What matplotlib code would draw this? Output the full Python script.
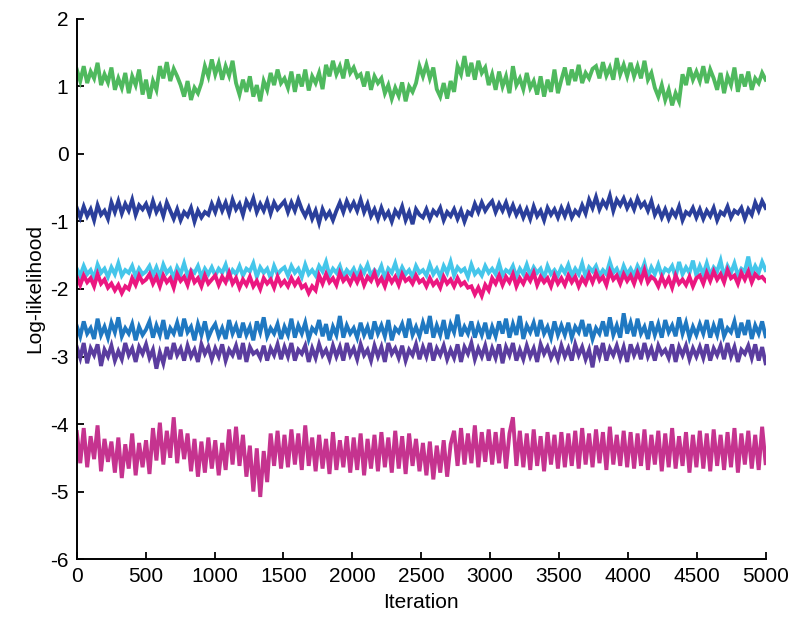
import numpy as np
import matplotlib as mpl
import matplotlib.pyplot as plt

# ---------------------------------------------------------------------------
# Data: log-likelihood traces, one value every ~25 iterations
# ---------------------------------------------------------------------------
N_ITER = 5000

green_trace = [
    1.25, 1.08, 1.30, 1.05, 1.22, 1.12, 1.35, 1.02, 1.18, 1.06, 1.28, 0.95, 1.12, 0.98, 1.20, 0.90, 1.15, 1.02, 1.25, 0.88,
    1.10, 0.82, 1.08, 0.95, 1.30, 1.12, 1.36, 1.08, 1.26, 1.15, 1.02, 0.85, 1.08, 0.80, 0.98, 0.90, 1.05, 1.30, 1.15, 1.40,
    1.18, 1.34, 1.10, 1.30, 1.16, 1.38, 1.05, 0.88, 1.10, 0.92, 1.15, 0.85, 1.02, 0.78, 1.08, 0.95, 1.20, 1.02, 1.25, 1.05,
    1.12, 0.98, 1.22, 0.92, 1.18, 1.00, 1.25, 0.94, 1.15, 1.05, 1.20, 0.96, 1.32, 1.15, 1.38, 1.18, 1.30, 1.12, 1.40, 1.20,
    1.28, 1.14, 1.18, 1.00, 1.22, 0.95, 1.15, 1.05, 1.12, 0.90, 1.02, 0.82, 0.98, 0.86, 1.06, 0.78, 1.00, 0.92, 1.05, 1.30,
    1.15, 1.32, 1.12, 1.28, 0.96, 0.85, 1.05, 0.82, 1.08, 0.92, 1.30, 1.18, 1.45, 1.15, 1.35, 1.10, 1.38, 1.20, 1.28, 1.02,
    1.18, 0.95, 1.22, 1.00, 1.15, 0.90, 1.30, 1.02, 1.12, 0.96, 1.20, 0.98, 1.08, 0.88, 1.15, 0.85, 1.10, 0.92, 1.25, 0.90,
    1.10, 1.28, 1.02, 1.25, 1.08, 1.32, 1.05, 1.20, 1.12, 1.26, 1.30, 1.12, 1.36, 1.16, 1.28, 1.10, 1.42, 1.18, 1.32, 1.15,
    1.35, 1.15, 1.30, 1.12, 1.38, 1.10, 1.20, 0.98, 0.85, 1.02, 0.80, 0.95, 0.72, 0.90, 0.78, 1.18, 1.02, 1.28, 1.10, 1.22,
    1.08, 1.30, 1.05, 1.25, 1.12, 0.95, 1.20, 0.90, 1.15, 1.02, 1.28, 0.92, 1.18, 1.00, 1.22, 0.95, 1.12, 1.05, 1.20, 1.10,
]

navy_trace = [
    -0.80, -0.94, -0.78, -0.92, -0.82, -0.98, -0.76, -0.90, -0.84, -0.96, -0.72, -0.86, -0.70, -0.88, -0.74, -0.84, -0.68, -0.90, -0.76, -0.82,
    -0.74, -0.88, -0.70, -0.86, -0.76, -0.92, -0.72, -0.84, -0.96, -0.82, -0.98, -0.86, -0.92, -0.80, -1.00, -0.84, -0.94, -0.86, -0.90, -0.74,
    -0.86, -0.70, -0.84, -0.72, -0.88, -0.68, -0.82, -0.74, -0.90, -0.70, -0.80, -0.66, -0.86, -0.74, -0.84, -0.70, -0.88, -0.72, -0.82, -0.76,
    -0.70, -0.86, -0.72, -0.84, -0.68, -0.82, -0.92, -0.80, -0.96, -0.84, -1.02, -0.82, -0.94, -0.86, -0.98, -0.84, -0.72, -0.86, -0.70, -0.82,
    -0.72, -0.84, -0.68, -0.86, -0.74, -0.92, -0.82, -0.96, -0.80, -0.94, -0.86, -1.00, -0.84, -0.92, -0.78, -0.98, -0.86, -1.04, -0.82, -0.90,
    -0.94, -0.82, -0.96, -0.84, -0.90, -0.80, -0.98, -0.86, -0.92, -0.82, -0.96, -0.84, -1.00, -0.86, -0.90, -0.74, -0.86, -0.72, -0.84, -0.76,
    -0.70, -0.86, -0.74, -0.84, -0.72, -0.88, -0.76, -0.90, -0.80, -0.94, -0.82, -0.96, -0.78, -0.92, -0.84, -0.98, -0.80, -0.90, -0.82, -0.94,
    -0.80, -0.92, -0.78, -0.94, -0.84, -0.90, -0.76, -0.88, -0.68, -0.80, -0.64, -0.82, -0.70, -0.78, -0.62, -0.84, -0.68, -0.76, -0.66, -0.80,
    -0.70, -0.82, -0.66, -0.78, -0.72, -0.84, -0.70, -0.90, -0.80, -0.94, -0.82, -0.96, -0.84, -0.92, -0.78, -0.98, -0.86, -0.90, -0.80, -0.94,
    -0.82, -0.96, -0.84, -0.92, -0.80, -0.98, -0.86, -0.90, -0.78, -0.94, -0.84, -0.88, -0.80, -0.96, -0.82, -0.90, -0.72, -0.84, -0.70, -0.80,
]

cyan_trace = [
    -1.70, -1.80, -1.66, -1.78, -1.72, -1.84, -1.64, -1.76, -1.70, -1.82, -1.68, -1.78, -1.62, -1.80, -1.72, -1.76, -1.66, -1.82, -1.70, -1.78,
    -1.74, -1.66, -1.80, -1.68, -1.82, -1.64, -1.76, -1.70, -1.84, -1.68, -1.78, -1.62, -1.80, -1.72, -1.76, -1.66, -1.82, -1.70, -1.78, -1.68,
    -1.80, -1.70, -1.76, -1.64, -1.82, -1.72, -1.78, -1.66, -1.80, -1.70, -1.74, -1.62, -1.82, -1.68, -1.76, -1.70, -1.84, -1.66, -1.78, -1.72,
    -1.68, -1.80, -1.66, -1.76, -1.70, -1.82, -1.64, -1.78, -1.72, -1.80, -1.66, -1.74, -1.60, -1.80, -1.70, -1.76, -1.66, -1.82, -1.72, -1.78,
    -1.70, -1.82, -1.68, -1.76, -1.64, -1.80, -1.72, -1.78, -1.66, -1.84, -1.70, -1.76, -1.62, -1.80, -1.68, -1.78, -1.72, -1.82, -1.66, -1.76,
    -1.72, -1.80, -1.64, -1.78, -1.70, -1.82, -1.66, -1.76, -1.60, -1.80, -1.68, -1.74, -1.70, -1.82, -1.64, -1.78, -1.72, -1.80, -1.66, -1.76,
    -1.70, -1.78, -1.62, -1.80, -1.72, -1.76, -1.66, -1.82, -1.70, -1.78, -1.64, -1.80, -1.68, -1.76, -1.70, -1.84, -1.66, -1.78, -1.72, -1.80,
    -1.68, -1.76, -1.64, -1.80, -1.70, -1.78, -1.62, -1.82, -1.68, -1.74, -1.66, -1.80, -1.72, -1.78, -1.60, -1.76, -1.70, -1.82, -1.66, -1.78,
    -1.70, -1.80, -1.66, -1.76, -1.62, -1.82, -1.68, -1.78, -1.64, -1.80, -1.70, -1.74, -1.66, -1.82, -1.60, -1.78, -1.68, -1.76, -1.58, -1.80,
    -1.66, -1.78, -1.62, -1.80, -1.68, -1.74, -1.58, -1.82, -1.66, -1.76, -1.62, -1.80, -1.70, -1.74, -1.52, -1.78, -1.66, -1.76, -1.60, -1.72,
]

pink_trace = [
    -1.82, -1.94, -1.80, -1.90, -1.84, -1.96, -1.78, -1.92, -1.86, -1.98, -1.92, -2.02, -1.94, -2.06, -1.96, -2.00, -1.84, -1.94, -1.80, -1.90,
    -1.86, -1.78, -1.92, -1.82, -1.96, -1.80, -1.90, -1.84, -1.98, -1.78, -1.88, -1.82, -1.94, -1.76, -1.90, -1.84, -1.96, -1.80, -1.92, -1.86,
    -1.80, -1.94, -1.82, -1.90, -1.76, -1.92, -1.84, -1.98, -1.86, -1.94, -1.82, -1.96, -1.88, -2.00, -1.84, -1.92, -1.86, -1.98, -1.82, -1.94,
    -1.88, -1.96, -1.84, -1.94, -1.86, -1.98, -1.94, -2.06, -1.96, -2.02, -1.80, -1.92, -1.78, -1.90, -1.84, -1.94, -1.76, -1.88, -1.82, -1.92,
    -1.80, -1.90, -1.78, -1.94, -1.82, -1.88, -1.76, -1.92, -1.84, -1.96, -1.80, -1.90, -1.82, -1.94, -1.78, -1.88, -1.84, -1.92, -1.80, -1.90,
    -1.86, -1.96, -1.84, -1.94, -1.88, -1.98, -1.82, -1.92, -1.86, -1.96, -1.84, -1.94, -1.90, -1.98, -1.96, -2.08, -1.98, -2.10, -1.94, -2.02,
    -1.84, -1.92, -1.80, -1.94, -1.82, -1.90, -1.78, -1.96, -1.84, -1.92, -1.80, -1.88, -1.76, -1.94, -1.82, -1.90, -1.84, -1.96, -1.80, -1.92,
    -1.84, -1.94, -1.80, -1.90, -1.82, -1.96, -1.84, -1.92, -1.78, -1.90, -1.76, -1.88, -1.82, -1.94, -1.74, -1.86, -1.80, -1.92, -1.78, -1.88,
    -1.80, -1.92, -1.76, -1.88, -1.72, -1.90, -1.82, -1.86, -1.96, -1.82, -1.94, -1.84, -1.98, -1.80, -1.92, -1.86, -1.94, -1.82, -1.96, -1.84,
    -1.80, -1.92, -1.76, -1.88, -1.74, -1.86, -1.78, -1.90, -1.72, -1.84, -1.80, -1.92, -1.76, -1.86, -1.74, -1.90, -1.78, -1.84, -1.82, -1.88,
]

blue_trace = [
    -2.55, -2.70, -2.48, -2.66, -2.58, -2.74, -2.44, -2.68, -2.56, -2.72, -2.50, -2.64, -2.42, -2.70, -2.58, -2.66, -2.52, -2.76, -2.56, -2.68,
    -2.60, -2.48, -2.72, -2.54, -2.68, -2.46, -2.74, -2.58, -2.66, -2.50, -2.70, -2.44, -2.64, -2.56, -2.76, -2.52, -2.68, -2.48, -2.72, -2.60,
    -2.52, -2.70, -2.58, -2.74, -2.46, -2.66, -2.54, -2.72, -2.50, -2.68, -2.56, -2.76, -2.48, -2.64, -2.42, -2.70, -2.58, -2.66, -2.52, -2.74,
    -2.56, -2.68, -2.44, -2.72, -2.54, -2.66, -2.50, -2.74, -2.58, -2.64, -2.46, -2.70, -2.52, -2.76, -2.56, -2.68, -2.40, -2.72, -2.54, -2.66,
    -2.58, -2.72, -2.50, -2.68, -2.56, -2.74, -2.48, -2.66, -2.54, -2.70, -2.46, -2.76, -2.58, -2.64, -2.52, -2.72, -2.44, -2.68, -2.56, -2.70,
    -2.50, -2.66, -2.40, -2.72, -2.54, -2.68, -2.46, -2.74, -2.52, -2.64, -2.38, -2.70, -2.56, -2.66, -2.48, -2.72, -2.54, -2.68, -2.50, -2.74,
    -2.56, -2.70, -2.48, -2.66, -2.44, -2.72, -2.52, -2.68, -2.40, -2.74, -2.54, -2.64, -2.50, -2.70, -2.46, -2.66, -2.56, -2.72, -2.48, -2.68,
    -2.54, -2.68, -2.50, -2.72, -2.56, -2.64, -2.46, -2.70, -2.52, -2.74, -2.58, -2.66, -2.48, -2.70, -2.42, -2.68, -2.54, -2.72, -2.36, -2.66,
    -2.50, -2.70, -2.44, -2.66, -2.56, -2.74, -2.48, -2.68, -2.52, -2.72, -2.46, -2.64, -2.54, -2.70, -2.42, -2.66, -2.50, -2.72, -2.56, -2.68,
    -2.52, -2.66, -2.46, -2.72, -2.54, -2.68, -2.44, -2.70, -2.58, -2.64, -2.48, -2.72, -2.50, -2.68, -2.46, -2.74, -2.54, -2.66, -2.48, -2.70,
]

purple_trace = [
    -2.86, -3.02, -2.80, -3.10, -2.88, -2.98, -2.82, -3.14, -2.90, -3.00, -2.84, -3.06, -2.92, -3.04, -2.80, -2.98, -2.88, -3.08, -2.86, -2.96,
    -2.82, -3.02, -2.90, -3.18, -2.94, -3.10, -2.86, -3.04, -2.80, -2.98, -2.88, -3.06, -2.84, -3.00, -2.90, -3.08, -2.82, -2.96, -2.86, -3.04,
    -2.88, -3.00, -2.82, -3.06, -2.90, -2.98, -2.84, -3.04, -2.80, -3.08, -2.86, -2.96, -2.92, -3.02, -2.84, -3.06, -2.88, -2.98, -2.82, -3.04,
    -2.86, -3.00, -2.80, -3.06, -2.90, -2.96, -2.84, -3.08, -2.88, -3.02, -2.82, -2.98, -2.90, -3.04, -2.84, -3.00, -2.86, -3.06, -2.80, -2.98,
    -2.88, -3.04, -2.82, -2.98, -2.90, -3.06, -2.84, -3.00, -2.86, -3.08, -2.80, -2.96, -2.88, -3.02, -2.84, -3.06, -2.90, -2.98, -2.82, -3.04,
    -2.86, -3.00, -2.80, -3.06, -2.88, -2.98, -2.84, -3.04, -2.90, -3.02, -2.82, -3.08, -2.86, -2.96, -2.80, -3.04, -2.88, -3.00, -2.84, -3.06,
    -2.88, -3.02, -2.82, -3.10, -2.86, -2.98, -2.80, -3.06, -2.90, -3.04, -2.84, -3.00, -2.88, -3.08, -2.82, -2.96, -2.86, -3.02, -2.90, -3.04,
    -2.84, -3.00, -2.88, -3.06, -2.82, -2.98, -2.86, -3.04, -2.90, -3.16, -2.84, -3.00, -2.80, -3.06, -2.88, -2.98, -2.84, -3.02, -2.86, -3.08,
    -2.82, -2.98, -2.86, -3.04, -2.80, -3.00, -2.88, -3.06, -2.84, -2.96, -2.90, -3.02, -2.82, -3.08, -2.86, -2.98, -2.84, -3.04, -2.88, -3.00,
    -2.86, -3.02, -2.82, -3.06, -2.88, -2.98, -2.84, -3.04, -2.80, -3.00, -2.86, -3.08, -2.90, -2.96, -2.84, -3.02, -2.82, -3.06, -2.86, -3.10,
]

magenta_trace = [
    -4.12, -4.58, -4.06, -4.64, -4.18, -4.52, -4.02, -4.70, -4.22, -4.56, -4.26, -4.72, -4.20, -4.80, -4.30, -4.66, -4.14, -4.76, -4.28, -4.64,
    -4.24, -4.74, -4.06, -4.54, -3.98, -4.60, -4.10, -4.50, -3.90, -4.58, -4.08, -4.52, -4.14, -4.70, -4.22, -4.78, -4.26, -4.72, -4.20, -4.66,
    -4.24, -4.76, -4.28, -4.68, -4.08, -4.60, -4.04, -4.62, -4.16, -4.78, -4.32, -5.00, -4.36, -5.08, -4.40, -4.86, -4.14, -4.62, -4.10, -4.66,
    -4.16, -4.64, -4.08, -4.60, -4.14, -4.68, -4.02, -4.62, -4.20, -4.70, -4.16, -4.66, -4.22, -4.74, -4.12, -4.68, -4.24, -4.64, -4.18, -4.72,
    -4.20, -4.68, -4.14, -4.76, -4.22, -4.66, -4.16, -4.70, -4.12, -4.64, -4.20, -4.72, -4.10, -4.66, -4.18, -4.74, -4.14, -4.62, -4.22, -4.70,
    -4.28, -4.76, -4.26, -4.82, -4.32, -4.72, -4.24, -4.78, -4.30, -4.10, -4.62, -4.06, -4.60, -4.14, -4.58, -4.02, -4.64, -4.12, -4.56, -4.08,
    -4.60, -4.12, -4.58, -4.06, -4.66, -4.14, -3.90, -4.62, -4.10, -4.64, -4.14, -4.68, -4.08, -4.62, -4.18, -4.70, -4.12, -4.60, -4.16, -4.66,
    -4.12, -4.64, -4.14, -4.62, -4.10, -4.66, -4.06, -4.60, -4.14, -4.64, -4.08, -4.58, -4.12, -4.68, -4.04, -4.60, -4.16, -4.62, -4.10, -4.64,
    -4.12, -4.66, -4.14, -4.62, -4.08, -4.68, -4.16, -4.60, -4.10, -4.70, -4.14, -4.64, -4.06, -4.66, -4.18, -4.62, -4.12, -4.72, -4.16, -4.64,
    -4.10, -4.66, -4.14, -4.70, -4.08, -4.62, -4.16, -4.68, -4.12, -4.64, -4.06, -4.72, -4.14, -4.60, -4.10, -4.66, -4.16, -4.68, -4.04, -4.58,
]

# draw order matters: later traces sit on top where bands overlap
TRACES = [
    (green_trace, "#4fb95e"),
    (navy_trace, "#2b3f9b"),
    (cyan_trace, "#45c6ea"),
    (pink_trace, "#eb1780"),
    (blue_trace, "#1f78c1"),
    (purple_trace, "#5b3d9f"),
    (magenta_trace, "#c5338f"),
]

X_TICKS = [0, 500, 1000, 1500, 2000, 2500, 3000, 3500, 4000, 4500, 5000]
Y_TICKS = [-6, -5, -4, -3, -2, -1, 0, 1, 2]

# ---------------------------------------------------------------------------
# Style
# ---------------------------------------------------------------------------
mpl.rcParams.update({
    "font.family": ["Liberation Sans", "DejaVu Sans"],
    "font.size": 15,
    "axes.unicode_minus": False,
    "axes.linewidth": 1.4,
    "axes.spines.top": False,
    "axes.spines.right": False,
    "xtick.direction": "in",
    "ytick.direction": "in",
})

fig = plt.figure(figsize=(8.0, 6.31), dpi=100)
ax = fig.add_axes([0.096, 0.114, 0.861, 0.856])

for values, color in TRACES:
    iters = np.linspace(0, N_ITER, len(values))
    ax.plot(iters, values, color=color, linewidth=2.8, solid_joinstyle="miter")

ax.set_xlim(0, N_ITER)
ax.set_ylim(-6, 2)
ax.set_xticks(X_TICKS)
ax.set_yticks(Y_TICKS)
ax.tick_params(axis="both", length=5, width=1.3, labelsize=15, pad=6)
ax.set_xlabel("Iteration", fontsize=15, labelpad=5)
ax.set_ylabel("Log-likelihood", fontsize=15, labelpad=4)

fig.savefig("out.png", dpi=100)
